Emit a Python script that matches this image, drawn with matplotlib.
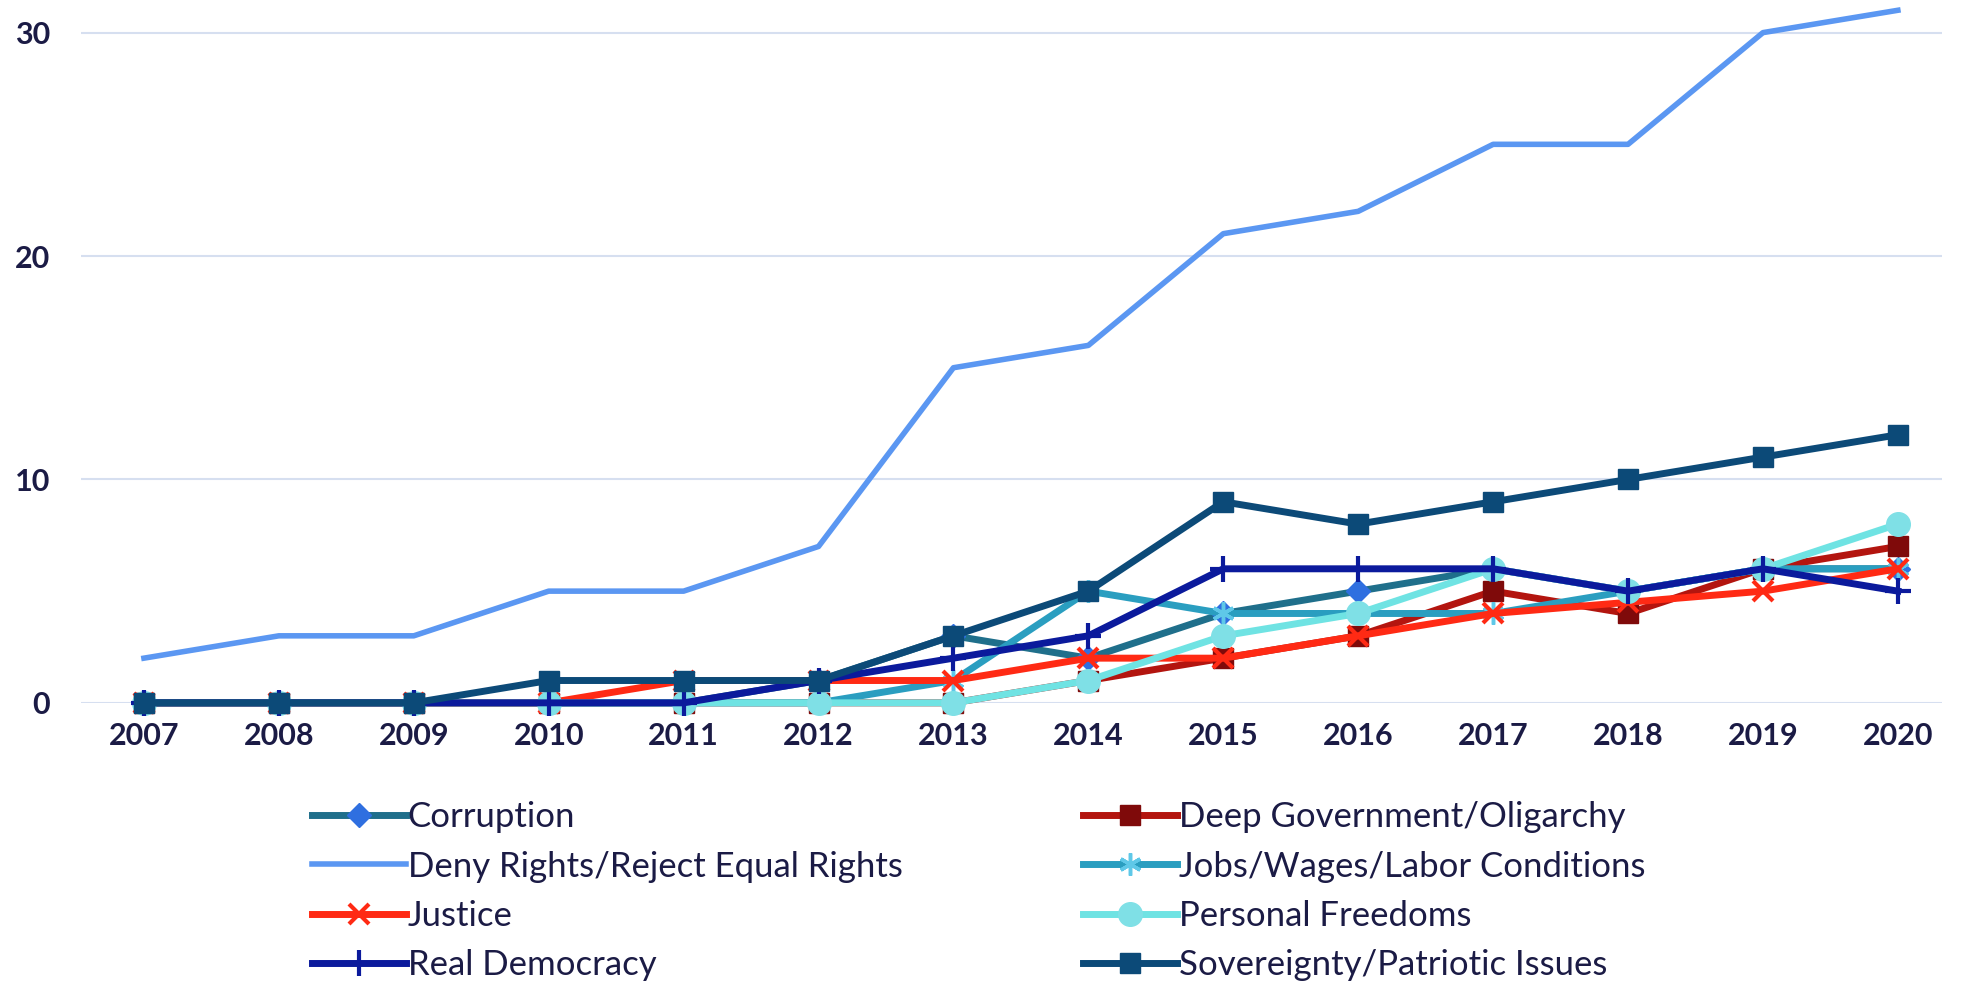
import matplotlib.pyplot as plt
import numpy as np

years = [2007, 2008, 2009, 2010, 2011, 2012, 2013, 2014, 2015, 2016, 2017, 2018, 2019, 2020]

corruption = [0, 0, 0, 0, 0, 1, 3, 2, 4, 5, 6, 5, 6, 6]
deep_gov = [0, 0, 0, 0, 0, 0, 0, 1, 2, 3, 5, 4, 6, 7]
deny_rights = [2, 3, 3, 5, 5, 7, 15, 16, 21, 22, 25, 25, 30, 31]
jobs = [0, 0, 0, 0, 0, 0, 1, 5, 4, 4, 4, 5, 6, 6]
justice = [0, 0, 0, 0, 1, 1, 1, 2, 2, 3, 4, 4.5, 5, 6]
freedoms = [0, 0, 0, 0, 0, 0, 0, 1, 3, 4, 6, 5, 6, 8]
democracy = [0, 0, 0, 0, 0, 1, 2, 3, 6, 6, 6, 5, 6, 5]
sovereignty = [0, 0, 0, 1, 1, 1, 3, 5, 9, 8, 9, 10, 11, 12]

fig = plt.figure(figsize=(19.64, 9.83), dpi=100)
ax = fig.add_axes([0.041, 0.285, 0.948, 0.715])

x = np.array(years)
lw = 5
ms = 14

h = {}
h["Corruption"], = ax.plot(x, corruption, color="#1f6f8b", lw=lw, marker="D", ms=ms - 2,
                           mfc="#2f6fe0", mec="#2f6fe0", clip_on=False)
h["Deep Government/Oligarchy"], = ax.plot(x, deep_gov, color="#b3150f", lw=lw, marker="s", ms=ms,
                                          mfc="#7f0a0a", mec="#7f0a0a", clip_on=False)
h["Deny Rights/Reject Equal Rights"], = ax.plot(x, deny_rights, color="#5b97f2", lw=4, clip_on=False)
h["Jobs/Wages/Labor Conditions"], = ax.plot(x, jobs, color="#2a9ec0", lw=lw, marker=(6, 2, 0), ms=ms + 2,
                                            mew=2.5, mec="#5fc8e8", clip_on=False)
h["Justice"], = ax.plot(x, justice, color="#ff2a14", lw=lw, marker="x", ms=ms, mew=3,
                        mec="#ff2a14", clip_on=False)
h["Personal Freedoms"], = ax.plot(x, freedoms, color="#6fe3e3", lw=lw, marker="o", ms=ms + 3,
                                  mfc="#7fe0e6", mec="#7fe0e6", clip_on=False)
h["Real Democracy"], = ax.plot(x, democracy, color="#0b1a9c", lw=lw, marker="+", ms=ms + 5, mew=3,
                               mec="#0b1a9c", clip_on=False)
h["Sovereignty/Patriotic Issues"], = ax.plot(x, sovereignty, color="#0c4a78", lw=lw, marker="s", ms=ms,
                                             mfc="#0c4a78", mec="#0c4a78", clip_on=False)

ax.set_xlim(2006.53, 2020.33)
ax.set_ylim(0, 31.46)
ax.set_xticks(years)
ax.set_yticks([0, 10, 20, 30])
ax.grid(axis="y", color="#d6dff0", lw=1.5)
ax.set_axisbelow(True)
for s in ax.spines.values():
    s.set_visible(False)
ax.tick_params(length=0, labelsize=22, labelcolor="#1b1b45", pad=14)
ax.tick_params(axis="y", pad=22)
for lab in ax.get_xticklabels() + ax.get_yticklabels():
    lab.set_fontfamily("Lato")
    lab.set_fontweight("bold")

order = ["Corruption", "Deny Rights/Reject Equal Rights", "Justice", "Real Democracy",
         "Deep Government/Oligarchy", "Jobs/Wages/Labor Conditions", "Personal Freedoms",
         "Sovereignty/Patriotic Issues"]
leg = fig.legend([h[k] for k in order], order, ncol=2, loc="upper left",
                 bbox_to_anchor=(0.159, 0.185), frameon=False, borderpad=0, borderaxespad=0,
                 prop={"family": "Lato", "size": 25}, handlelength=2.7, handletextpad=0.05,
                 columnspacing=5.2, labelspacing=0.5, labelcolor="#1b1b45")

fig.savefig("out.png", dpi=100)
